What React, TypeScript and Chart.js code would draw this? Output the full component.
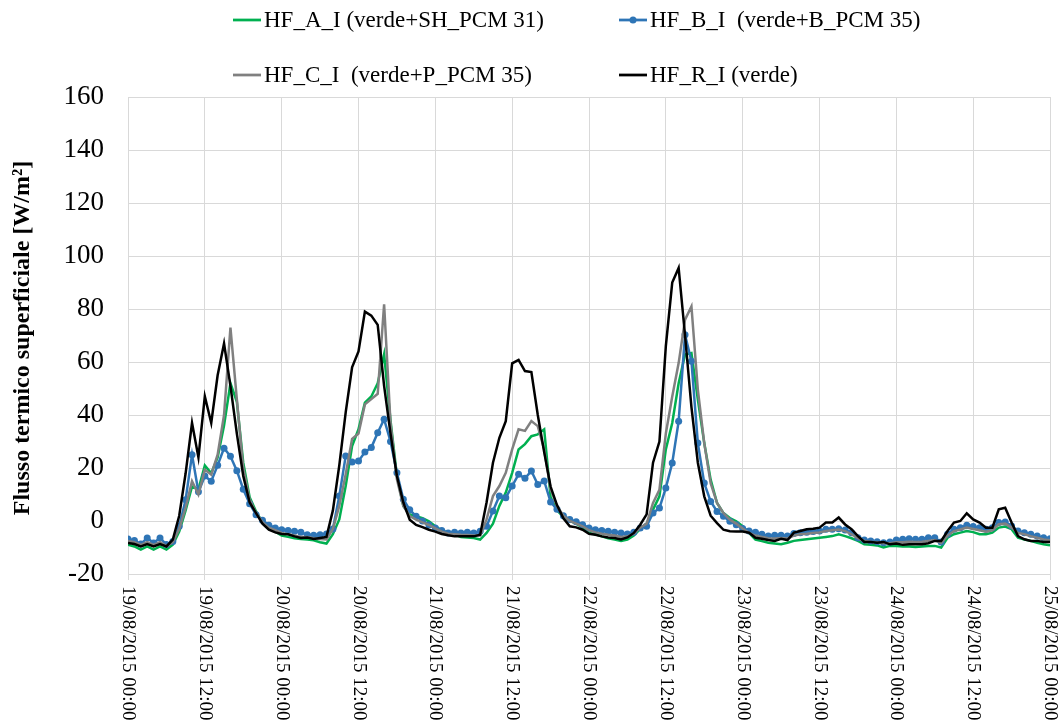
import { useEffect, useRef } from 'react';
import { Chart, registerables } from 'chart.js';

Chart.register(...registerables);

// Hourly values, 19/08/2015 00:00 .. 25/08/2015 00:00 (145 points)
const hfA = [
  -8.9, -9.6, -10.8, -9.6, -10.8, -9.6, -10.8, -8.9, -4, 4, 13, 12, 21, 18, 24, 36, 52, 45, 22, 9,
  3.6, -0.5, -3, -4, -5.5, -6, -6.5, -6.8, -7, -7.3, -8, -8.5, -5, 0.6, 13.2, 28.3, 34.6, 44.7, 47, 52,
  62.9, 38, 17, 5.7, 2.5, 1.8, 1.1, -0.1, -2, -3.5, -4.5, -5, -6, -6.2, -6.4, -7, -4.5, -1, 5.7, 10.7,
  18.2, 27, 29, 32, 32.7, 34.6, 9, 4, 1.5, 0, -1, -2.5, -4.5, -5, -5.8, -6.5, -7, -7.5, -7, -5.5,
  -3, -1, 4.3, 9.3, 27, 37, 52, 62.8, 63.4, 45.8, 29.4, 15.6, 6.8, 3, 1.1, -0.1, -2, -4.5, -7, -7.6,
  -8.2, -8.5, -8.8, -8.2, -7.5, -7.2, -6.9, -6.6, -6.3, -6, -5.7, -5, -5.7, -6.5, -7.5, -8.8, -9, -9.2, -10, -9.4,
  -9.4, -9.6, -9.6, -9.8, -9.6, -9.4, -9.4, -10, -6.3, -5, -4.4, -3.8, -4.2, -5, -5, -4.4, -2.5, -2.1, -3.1, -6.3,
  -7, -7.5, -8.2, -8.8, -9.2,
];
const hfB = [
  -6.8, -7.4, -8.7, -6.4, -8.3, -6.4, -8.9, -7.7, -2, 8, 25, 11, 17, 15, 21, 27.5, 24.4, 19, 12, 6.5,
  2.4, 0.3, -1.6, -2.6, -3.3, -3.6, -3.9, -4.2, -5.2, -5.4, -5.2, -4.9, -3, 9.4, 24.5, 22.3, 22.6, 26, 27.7, 33.3,
  38.4, 30, 18.2, 8.2, 4.2, 1.8, 0, -1.5, -2.6, -3.6, -4.5, -4.2, -4.5, -4.2, -4.5, -3.9, -2, 3.8, 9.4, 8.8,
  13.2, 17.6, 16.1, 18.9, 13.8, 15.1, 7.2, 4.4, 2, 0.6, -0.3, -1.4, -2.6, -3.3, -3.6, -3.9, -4.2, -4.5, -4.9, -4.2,
  -2.6, -2, 3, 4.9, 12.5, 21.9, 37.6, 70.3, 60.3, 29.4, 14.3, 7.4, 3.6, 1.8, -0.1, -1.4, -2.8, -3.8, -4.2, -5,
  -5.7, -5.4, -5.4, -5.7, -4.7, -4.4, -4.2, -4, -3.8, -3.1, -3.1, -2.9, -3.4, -4.4, -6.3, -7.2, -7.5, -7.8, -8.2, -7.9,
  -7.2, -6.9, -6.7, -6.9, -6.9, -6.3, -6.3, -7.9, -5, -3.1, -2.5, -1.6, -2.1, -2.5, -3.1, -2.5, -0.6, -0.4, -1.9, -3.8,
  -4.4, -5, -5.7, -6.3, -6.7,
];
const hfC = [
  -7.5, -8, -9, -8, -9, -8, -9.5, -8, -3, 5, 15, 10, 19.4, 17.5, 25, 40, 73, 46, 20, 8,
  3, -0.5, -2.5, -3.5, -4.5, -5, -5.5, -6, -6, -6.5, -6.8, -7, -3, 5.7, 17.6, 31, 33, 44, 46, 48,
  81.8, 37, 15.7, 5.7, 1.9, 0.5, -0.5, -1.5, -2.8, -4, -4.8, -5, -5.2, -5.3, -5.5, -5.5, 0.6, 9.4, 13.2, 18.2,
  27, 34.6, 34, 37.7, 35.8, 27, 12, 5.7, 2, 0, -1, -2, -3.5, -4.3, -4.8, -5.2, -5.5, -6, -5.8, -4.8,
  -2.5, -1, 6.8, 11.8, 33, 47, 59.6, 76, 81, 49.6, 29.4, 14.3, 6.8, 3, 0.5, -1, -2.8, -4.5, -5.5, -6,
  -6.5, -6.6, -6.4, -6.6, -5.5, -5, -4.8, -4.5, -4.3, -3.8, -3.5, -3.2, -3.8, -5, -6.5, -7.5, -7.8, -8, -8.4, -8.4,
  -8, -8, -7.8, -7.9, -7.8, -7.5, -7.2, -8.3, -5.5, -3.8, -3.2, -2.5, -3, -3.5, -4, -3.5, -1.2, -1, -2.5, -4.5,
  -5, -5.7, -6.3, -7, -7.3,
];
const hfR = [
  -8.3, -8.7, -9.6, -8.7, -9.6, -8.7, -9.6, -7, 2, 18, 37, 24, 47, 37, 55, 67, 51, 33, 17, 7,
  3, -1, -3.3, -4.3, -4.9, -5, -5.8, -6.4, -6.2, -6.8, -6.4, -6, 4, 21, 41, 58, 64, 79, 77.5, 74,
  51, 33, 17, 7, 0.5, -1.5, -2.3, -3.3, -4, -4.9, -5.4, -5.8, -5.8, -5.8, -5.8, -5.2, 7, 22, 31.4, 37.7,
  59.5, 60.8, 56.6, 56.2, 40, 26, 13, 6, 1, -2, -2.4, -3.3, -4.8, -5.2, -5.8, -6.2, -6.4, -7, -6.2, -4.5,
  -1.4, 2.5, 22, 30, 66, 90, 95.5, 70, 43, 22, 9.3, 2, -0.8, -3.3, -3.9, -4, -4, -4.4, -6.3, -6.7,
  -7.2, -7.5, -6.7, -7.2, -4.4, -3.8, -3.1, -2.9, -2.5, -0.6, -0.6, 1.3, -1.3, -3.1, -5.7, -7.9, -7.9, -8.2, -7.9, -8.8,
  -8.5, -9, -8.8, -8.8, -8.8, -8.4, -7.5, -7.5, -3.8, -0.6, 0, 2.9, 0.6, -0.6, -2.5, -2.5, 4.4, 5, -0.6, -5.7,
  -6.9, -7.5, -7.5, -7.9, -7.9,
];

const tickLabels = [
  '19/08/2015 00:00', '19/08/2015 12:00', '20/08/2015 00:00', '20/08/2015 12:00',
  '21/08/2015 00:00', '21/08/2015 12:00', '22/08/2015 00:00', '22/08/2015 12:00',
  '23/08/2015 00:00', '23/08/2015 12:00', '24/08/2015 00:00', '24/08/2015 12:00',
  '25/08/2015 00:00',
];
const seriesNames = [
  'HF_A_I (verde+SH_PCM 31)',
  'HF_B_I  (verde+B_PCM 35)',
  'HF_C_I  (verde+P_PCM 35)',
  'HF_R_I (verde)',
];
const seriesColors = ['#00B050', '#2E75B6', '#808080', '#000000'];
const yTitle = 'Flusso termico superficiale [W/m²]';

const SERIF = '"Liberation Serif", "Times New Roman", serif';

const toPoints = (arr: number[]) => arr.map((v, i) => ({ x: i, y: v }));

export default function App() {
  const ref = useRef<HTMLCanvasElement | null>(null);

  useEffect(() => {
    if (!ref.current) return;

    const overlay = {
      id: 'overlay',
      afterDraw(chart: any) {
        const ctx = chart.ctx as CanvasRenderingContext2D;
        const xs = chart.scales.x;
        const area = chart.chartArea;
        ctx.save();
        ctx.fillStyle = '#000';
        // x tick labels, rotated clockwise (reading top to bottom)
        ctx.font = `19px ${SERIF}`;
        tickLabels.forEach((t, i) => {
          const x = xs.getPixelForValue(i * 12);
          ctx.save();
          ctx.translate(x, area.bottom + 12);
          ctx.rotate(Math.PI / 2);
          ctx.textAlign = 'left';
          ctx.textBaseline = 'middle';
          ctx.fillText(t, 0, 0);
          ctx.restore();
        });
        // y title
        ctx.save();
        ctx.font = `bold 24px ${SERIF}`;
        ctx.translate(23, 338);
        ctx.rotate(-Math.PI / 2);
        ctx.textAlign = 'center';
        ctx.textBaseline = 'middle';
        ctx.fillText(yTitle, 0, 0);
        ctx.restore();
        // legend
        const cols = [233, 619];
        const rows = [20, 75];
        ctx.font = `23px ${SERIF}`;
        ctx.textBaseline = 'middle';
        ctx.textAlign = 'left';
        seriesNames.forEach((name, i) => {
          const cx = cols[i % 2];
          const cy = rows[Math.floor(i / 2)];
          ctx.strokeStyle = seriesColors[i];
          ctx.lineWidth = 2.75;
          ctx.beginPath();
          ctx.moveTo(cx, cy);
          ctx.lineTo(cx + 28, cy);
          ctx.stroke();
          if (i === 1) {
            ctx.fillStyle = seriesColors[i];
            ctx.beginPath();
            ctx.arc(cx + 14, cy, 3.5, 0, Math.PI * 2);
            ctx.fill();
          }
          ctx.fillStyle = '#000';
          ctx.fillText(name, cx + 31, cy + 1);
        });
        ctx.restore();
      },
    };

    const mk = (arr: number[], i: number, order: number) => ({
      label: seriesNames[i],
      data: toPoints(arr),
      borderColor: seriesColors[i],
      backgroundColor: seriesColors[i],
      borderWidth: 2.5,
      pointRadius: i === 1 ? 3.5 : 0,
      pointBorderWidth: 0,
      pointHoverRadius: 0,
      tension: 0,
      order,
    });

    const chart = new Chart(ref.current, {
      type: 'line',
      data: {
        datasets: [mk(hfA, 0, 3), mk(hfB, 1, 2), mk(hfC, 2, 1), mk(hfR, 3, 0)],
      },
      options: {
        responsive: false,
        animation: false,
        events: [],
        layout: { padding: { left: 0, right: 11, top: 97, bottom: 0 } },
        plugins: { legend: { display: false }, tooltip: { enabled: false } },
        scales: {
          x: {
            type: 'linear',
            min: 0,
            max: 144,
            ticks: { display: false, stepSize: 12 },
            grid: { color: '#d9d9d9', lineWidth: 1, tickLength: 6, drawTicks: true },
            border: { color: '#d9d9d9' },
            afterFit: (s: any) => { s.height = 148; },
          },
          y: {
            min: -20,
            max: 160,
            ticks: {
              stepSize: 20,
              color: '#000',
              font: { family: SERIF, size: 27 },
              padding: 24,
            },
            grid: { color: '#d9d9d9', lineWidth: 1, drawTicks: false },
            border: { color: '#d9d9d9' },
            afterFit: (s: any) => { s.width = 128; },
          },
        },
      } as any,
      plugins: [overlay],
    });
    return () => chart.destroy();
  }, []);

  return (
    <div style={{ position: 'absolute', left: 0, top: 0, width: 1061, height: 722, background: '#fff' }}>
      <canvas ref={ref} width={1061} height={722} style={{ display: 'block' }} />
    </div>
  );
}
